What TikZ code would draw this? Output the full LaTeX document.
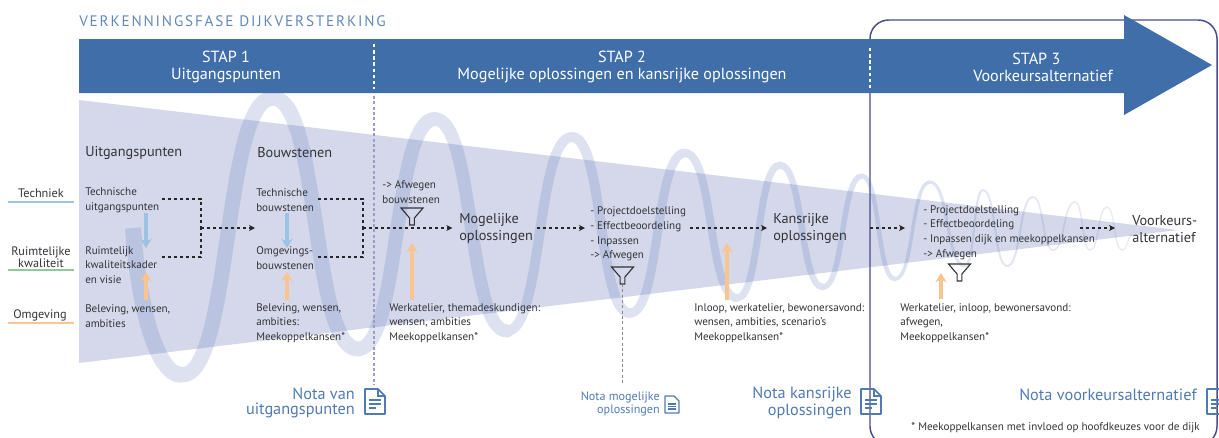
\documentclass[tikz,border=0pt]{standalone}
\usepackage{fontspec}
\setmainfont{PT Sans}
\usetikzlibrary{arrows.meta,calc}
\definecolor{hdr}{HTML}{3F6EA9}
\definecolor{wavelight}{HTML}{DEE1F0}
\definecolor{wavedark}{HTML}{BAC4E0}
\definecolor{tri}{HTML}{D4D8EA}
\definecolor{frameviolet}{HTML}{4A4C8E}
\definecolor{txt}{HTML}{333338}
\definecolor{nota}{HTML}{4F7BB2}
\definecolor{ltblue}{HTML}{9CC3E4}
\definecolor{ltgreen}{HTML}{93C79C}
\definecolor{ltorange}{HTML}{F8C48F}
\definecolor{sep}{HTML}{9A9CC6}
\newcommand{\wavepaths}[2]{%
  \draw[#1,line width=12pt,line cap=butt] (133,228) .. controls (138,300) and (155,375) .. (182,375);
  \foreach \x/\y/\w/\f [remember=\x as \xp (initially 182),remember=\y as \yp (initially 375)] in
   {273/98/15/100,358/349/15/100,435/119/14/100,507/331/13/100,572/137/10/100,630/313/10/100,685/153/9/100,737/298/8/100,780/165/7/100,
    823/287/6.5/100,862/176/5.5/100,895/279/4.5/100,930/182/3.5/100,965/266/3/90,983/190/2.2/90,1007/266/2/85,1033/197/2/85,1053/250/1.6/80,
    1075/202/1.6/80,1090/250/1.4/75,1107/207/1.4/75,1122/250/1.3/70,1133/235/1.3/70}
   {\draw[draw=#1!\f!#2,line width=\w*0.75pt,line cap=round]
     (\xp,\yp) .. controls ({\xp+0.55*(\x-\xp)},\yp) and ({\x-0.55*(\x-\xp)},\y) .. (\x,\y);}%
}
\tikzset{
  small/.style={inner sep=0pt,anchor=west,align=left,text=txt,font=\fontsize{8.3}{10.9}\selectfont},
  big/.style={inner sep=0pt,anchor=west,align=left,text=txt,font=\fontsize{10.7}{12.4}\selectfont},
  steptext/.style={inner sep=0pt,align=center,text=white,font=\fontsize{12.1}{12.8}\selectfont},
  sidelabel/.style={inner sep=0pt,align=center,text=txt,font=\fontsize{9.2}{8.6}\selectfont},
  notatext/.style={inner sep=0pt,anchor=east,align=right,text=nota,font=\fontsize{12.2}{10.7}\selectfont},
  notasmall/.style={inner sep=0pt,anchor=east,align=right,text=nota,font=\fontsize{9.1}{10.4}\selectfont},
  flow/.style={draw=black!85,line width=1pt,dash pattern=on 2.6pt off 1.9pt},
  flowarrow/.style={flow,-{Stealth[length=4.5pt,width=4.5pt]}},
  inblue/.style={draw=ltblue,line width=3.4pt,-{Stealth[length=7pt,width=8.5pt]}},
  inorange/.style={draw=ltorange,line width=3.4pt,-{Stealth[length=7pt,width=8.5pt]}},
  funnel/.pic={\draw[draw=txt,line width=0.85pt,line join=miter]
     (-11,0)--(11,0)--(2.4,10)--(2.4,17)--(-2.4,17)--(-2.4,10)--cycle;},
  docicon/.pic={
     \draw[draw=nota,line width=1.25pt,line join=round] (0,0)--(13,0)--(20,7)--(20,25)--(0,25)--cycle;
     \draw[draw=nota,line width=.9pt] (13,0)--(13,7)--(20,7);
     \draw[draw=nota,line width=1pt] (4,11)--(16,11) (4,15)--(16,15) (4,19)--(11,19);},
  smalldoc/.pic={
     \draw[draw=nota,line width=1pt,line join=round] (0,0)--(9,0)--(14,5)--(14,17)--(0,17)--cycle;
     \fill[nota] (3,7) rectangle (11,14);
     \draw[draw=white,line width=.4pt] (3,9)--(11,9) (3,11)--(11,11);}
}
\begin{document}
\begin{tikzpicture}[x=0.75pt,y=-0.75pt]
\useasboundingbox (0,0) rectangle (1219,437);
% wave and wedge
\wavepaths{wavelight}{white}
\fill[tri] (79,100)--(1178,230)--(79,363)--cycle;
\begin{scope}
  \clip (79,100)--(1178,230)--(79,363)--cycle;
  \wavepaths{wavedark}{tri}
\end{scope}
% frame of step 3
\draw[draw=frameviolet,line width=1.1pt,rounded corners=14pt] (870,20) rectangle (1217,445);
% header arrow
\fill[hdr] (79,39)--(1124,39)--(1124,15)--(1212,65)--(1124,115)--(1124,93)--(79,93)--cycle;
\draw[white,line width=1.1pt,dash pattern=on 2.6pt off 2pt] (374,44)--(374,89);
\draw[white,line width=1.1pt,dash pattern=on 2.6pt off 2pt] (870,48)--(870,89);
\draw[sep,line width=.9pt,dash pattern=on 2.2pt off 1.8pt] (374,96)--(374,385);
\node[inner sep=0pt,anchor=west,text=nota!90!white,font=\fontsize{11.4}{12}\selectfont\addfontfeature{LetterSpace=12}] (title) at (79,21) {VERKENNINGSFASE DIJKVERSTERKING};
\node[steptext] (s1) at (226,67) {STAP 1\\Uitgangspunten};
\node[steptext] (s2) at (622,67) {STAP 2\\Mogelijke oplossingen en kansrijke oplossingen};
\node[steptext] (s3) at (1043,67) {\hspace*{-10pt}STAP 3\\Voorkeursalternatief};
% side labels
\node[sidelabel] (lt) at (41,193) {Techniek};
\node[sidelabel] (lr) at (41,257) {Ruimtelijke\\kwaliteit};
\node[sidelabel] (lo) at (40,315.5) {Omgeving};
\coordinate (ltA) at (8,202); \coordinate (ltB) at (74,202);
\coordinate (lrA) at (8,270); \coordinate (lrB) at (74,270);
\coordinate (loA) at (8,323); \coordinate (loB) at (74,323);
\draw[ltblue,line width=1.6pt] (ltA)--(ltB);
\draw[ltgreen,line width=1.6pt] (lrA)--(lrB);
\draw[ltorange,line width=1.6pt] (loA)--(loB);
% column 1
\node[big] (h1) at (85,153) {Uitgangspunten};
\node[small] (a1) at (85,200) {Technische\\uitgangspunten};
\node[small] (a2) at (85,265) {Ruimtelijk\\kwaliteitskader\\en visie};
\node[small] (a3) at (85,316) {Beleving, wensen,\\ambities};
% column 2
\node[big] (h2) at (257,153) {Bouwstenen};
\node[small] (b1) at (256,200) {Technische\\bouwstenen};
\node[small] (b2) at (256,258) {Omgevings-\\bouwstenen};
\node[small] (b3) at (256,323) {Beleving, wensen,\\ambities:\\Meekoppelkansen*};
% column 3
\node[small] (c1) at (382,192) {-> Afwegen\\bouwstenen};
\pic at (412,208) {funnel};
\node[big] (m) at (459,228.5) {Mogelijke\\oplossingen};
\node[small] (c3) at (389,323) {Werkatelier, themadeskundigen:\\wensen, ambities\\Meekoppelkansen*};
% column 4
\node[small] (d1) at (590,234) {- Projectdoelstelling\\- Effectbeoordeling\\- Inpassen\\-> Afwegen};
\pic at (622.5,267) {funnel};
\node[big] (k) at (773,228.5) {Kansrijke\\oplossingen};
\node[small] (d3) at (694,323) {Inloop, werkatelier, bewonersavond:\\wensen, ambities, scenario's\\Meekoppelkansen*};
% column 5
\node[small] (e1) at (923,232.5) {- Projectdoelstelling\\- Effectbeoordeling\\- Inpassen dijk en meekoppelkansen\\-> Afwegen};
\pic at (959.5,264) {funnel};
\node[big] (v) at (1132,229) {Voorkeurs-\\alternatief};
\node[small] (e3) at (900,323) {Werkatelier, inloop, bewonersavond:\\afwegen,\\Meekoppelkansen*};
% flow connectors
\coordinate (p1) at (162,199); \coordinate (p2) at (162,257); \coordinate (j1) at (201,228); \coordinate (q1) at (255,228);
\coordinate (r1) at (318,199); \coordinate (r2) at (318,257); \coordinate (j2) at (363,228);
\coordinate (w1) at (537,228); \coordinate (w2) at (585,228); \coordinate (w3) at (690,228); \coordinate (w4) at (767,228);
\coordinate (w5) at (870,228); \coordinate (w6) at (905,228); \coordinate (w7) at (1080,228); \coordinate (w8) at (1115,228);
\draw[flow] (p1) -| (j1);
\draw[flow] (p2) -| (j1);
\draw[flowarrow] (j1) -- (q1);
\draw[flow] (r1) -| (j2);
\draw[flow] (r2) -| (j2);
\draw[flowarrow,shorten >=5pt] (j2) -- (m.west |- j2);
\draw[flowarrow] (w1) -- (w2);
\draw[flowarrow] (w3) -- (w4);
\draw[flowarrow] (w5) -- (w6);
\draw[flowarrow] (w7) -- (w8);
% input arrows
\coordinate (u1) at (146,213); \coordinate (u2) at (146,248);
\coordinate (u3) at (287,213); \coordinate (u4) at (287,248);
\draw[inblue] (u1)--(u2);
\draw[inblue] (u3)--(u4);
\coordinate (o1) at (146,300); \coordinate (o2) at (146,272);
\coordinate (o3) at (287,300); \coordinate (o4) at (287,272);
\coordinate (o5) at (412,300); \coordinate (o6) at (412,243);
\coordinate (o7) at (727,300); \coordinate (o8) at (727,243);
\coordinate (o9) at (941,299); \coordinate (o10) at (941,273);
\draw[inorange] (o1)--(o2);
\draw[inorange] (o3)--(o4);
\draw[inorange] (o5)--(o6);
\draw[inorange] (o7)--(o8);
\draw[inorange] (o9)--(o10);
% notes
\node[notatext] (n1) at (355,403) {Nota van\\uitgangspunten};
\pic at (365,389) {docicon};
\node[notasmall] (n2) at (660,404) {Nota mogelijke\\oplossingen};
\pic at (665,396) {smalldoc};
\coordinate (f1) at (622,284); \coordinate (f2) at (622,385);
\draw[black!45,line width=.6pt,dash pattern=on 2.2pt off 1.8pt] (f1)--(f2);
\node[notatext] (n3) at (852,403) {Nota kansrijke\\oplossingen};
\pic at (861,389) {docicon};
\node[notatext] (n4) at (1197,395) {Nota voorkeursalternatief};
\pic at (1207,389) {docicon};
\node[inner sep=0pt,anchor=east,text=txt,font=\fontsize{8.35}{9}\selectfont] (fn) at (1200,428) {* Meekoppelkansen met invloed op hoofdkeuzes voor de dijk};
\end{tikzpicture}
\end{document}
